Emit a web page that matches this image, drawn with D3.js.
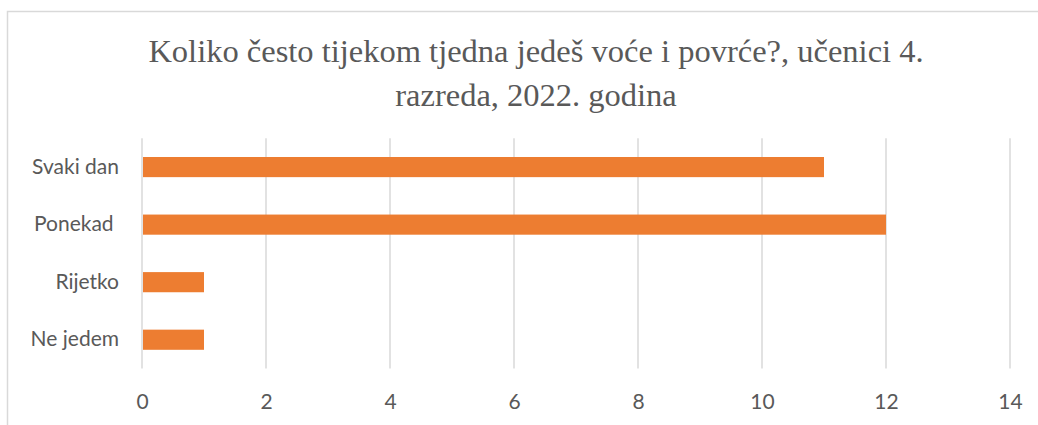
<!DOCTYPE html>
<html>
<head>
<meta charset="utf-8">
<script src="https://cdn.jsdelivr.net/npm/d3@7"></script>
<style>
  body { margin: 0; background: #fff; }
  svg { display: block; }
</style>
</head>
<body>
<svg width="1038" height="425"></svg>
<script>
var categories = ["Svaki dan", "Ponekad ", "Rijetko", "Ne jedem"];
var values = [11, 12, 1, 1];
var xTicks = [0, 2, 4, 6, 8, 10, 12, 14];
var titleLines = ["Koliko često tijekom tjedna jedeš voće i povrće?, učenici 4.", "razreda, 2022. godina"];

var svg = d3.select("svg"),
    width = +svg.attr("width"),
    height = +svg.attr("height");

var margin = {left: 142, right: 28, top: 138.3, bottom: 56.5};

// chart border (cropped at right/bottom)
svg.append("rect")
    .attr("x", 7.5).attr("y", 11.5)
    .attr("width", 1100).attr("height", 500)
    .attr("fill", "none")
    .attr("stroke", "#d9d9d9")
    .attr("stroke-width", 1.5);

var x = d3.scaleLinear()
    .domain([0, 14])
    .range([margin.left, width - margin.right]);

var y = d3.scaleBand()
    .domain(categories)
    .range([margin.top, height - margin.bottom])
    .paddingInner(0.65)
    .paddingOuter(0.325);

// gridlines
svg.append("g")
  .selectAll("line")
  .data(xTicks)
  .enter().append("line")
    .attr("x1", function(d) { return x(d); })
    .attr("x2", function(d) { return x(d); })
    .attr("y1", margin.top)
    .attr("y2", height - margin.bottom)
    .attr("stroke", "#d9d9d9")
    .attr("stroke-width", 1.5);

// bars
svg.append("g")
  .selectAll("rect")
  .data(values)
  .enter().append("rect")
    .attr("x", x(0) + 1)
    .attr("y", function(d, i) { return y(categories[i]); })
    .attr("width", function(d) { return x(d) - x(0) - 1; })
    .attr("height", y.bandwidth())
    .attr("fill", "#ed7d31");

// x axis labels
var xAxis = d3.axisBottom(x).tickValues(xTicks).tickSize(0).tickPadding(0);
var gx = svg.append("g")
    .attr("transform", "translate(0," + (height - margin.bottom) + ")")
    .call(xAxis);
gx.select(".domain").remove();
gx.selectAll("text")
    .attr("dy", "0")
    .attr("y", 40)
    .attr("fill", "#595959")
    .style("font-family", "Lato, 'Open Sans', sans-serif")
    .style("font-size", "21px");

// y axis labels
var yAxis = d3.axisLeft(y).tickSize(0).tickPadding(0);
var gy = svg.append("g")
    .attr("transform", "translate(" + 119 + ",0)")
    .call(yAxis);
gy.select(".domain").remove();
gy.selectAll("text")
    .attr("fill", "#595959")
    .style("white-space", "pre")
    .style("font-family", "Lato, 'Open Sans', sans-serif")
    .style("font-size", "21px");

// title
svg.append("g")
  .selectAll("text")
  .data(titleLines)
  .enter().append("text")
    .attr("x", 536)
    .attr("y", function(d, i) { return 62.3 + i * 43.7; })
    .attr("text-anchor", "middle")
    .attr("fill", "#595959")
    .style("font-family", "'Liberation Serif', 'Times New Roman', serif")
    .style("font-size", "32.5px")
    .text(function(d) { return d; });
</script>
</body>
</html>
